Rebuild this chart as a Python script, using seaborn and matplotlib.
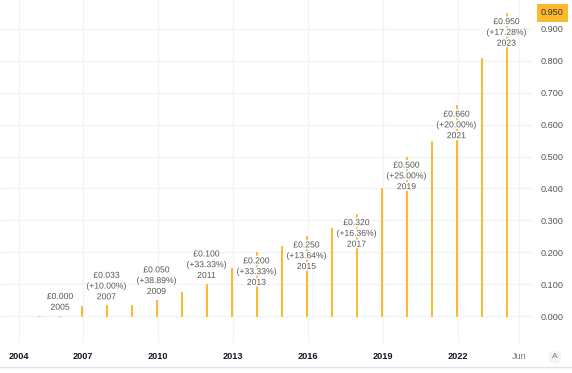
import numpy as np
import pandas as pd
import matplotlib
matplotlib.use("Agg")
import matplotlib.pyplot as plt
import matplotlib.patheffects as pe
import matplotlib.transforms as mtransforms
from matplotlib.lines import Line2D
import seaborn as sns

# annual dividend per share (GBP), plotted at year end
years = [2004, 2005, 2006, 2007, 2008, 2009, 2010, 2011, 2012, 2013,
         2014, 2015, 2016, 2017, 2018, 2019, 2020, 2021, 2022, 2023]
dividends = [0.0003, 0.0004, 0.030, 0.033, 0.036, 0.050, 0.075, 0.100, 0.150, 0.200,
             0.220, 0.250, 0.275, 0.320, 0.400, 0.500, 0.550, 0.660, 0.810, 0.950]
labelled_years = [2005, 2007, 2009, 2011, 2013, 2015, 2017, 2019, 2021, 2023]

x_ticks = [2004, 2007, 2010, 2013, 2016, 2019, 2022, 2024.45]
x_tick_labels = ["2004", "2007", "2010", "2013", "2016", "2019", "2022", "Jun"]
y_ticks = [0.0, 0.1, 0.2, 0.3, 0.4, 0.5, 0.6, 0.7, 0.8, 0.9]
last_value = 0.950

BAR = "#FDB92C"
GRID = "#F2F3F5"
TEXT = "#555555"

df = pd.DataFrame({"year": years, "dividend": dividends})
df["date"] = df["year"] + 0.94

sns.set_style("white")
plt.rcParams["font.family"] = ["Liberation Sans", "DejaVu Sans"]

fig = plt.figure(figsize=(5.72, 3.73), dpi=100)
ax = fig.add_axes([0, 30 / 373, 533 / 572, 343 / 373])

# the time axis is squeezed before 2007 (sparse early data)
K = 0.849
BREAK = 2006.92


def fwd(t):
    t = np.asarray(t, dtype=float)
    return np.where(t < BREAK, BREAK - K * (BREAK - t), t)


def inv(u):
    u = np.asarray(u, dtype=float)
    return np.where(u < BREAK, BREAK - (BREAK - u) / K, u)


ax.set_xscale("function", functions=(fwd, inv))

sns.barplot(data=df, x="date", y="dividend", native_scale=True, width=0.08,
            color=BAR, saturation=1, edgecolor=BAR, linewidth=0.7, ax=ax)

# labels with yearly totals and growth
for yr in labelled_years:
    i = years.index(yr)
    v = dividends[i]
    lines = [f"£{v:.3f}"]
    if i > 0 and dividends[i - 1] >= 0.01:
        lines.append(f"(+{(v / dividends[i - 1] - 1) * 100:.2f}%)")
    lines.append(str(yr))
    if v >= 0.15:
        off, va = -3.0, "top"
    else:
        off, va = 3.0, "bottom"
    ax.annotate("\n".join(lines), xy=(yr + 0.94, v), xytext=(0, off),
                textcoords="offset points", ha="center", va=va,
                fontsize=6.2, color=TEXT, linespacing=1.25,
                path_effects=[pe.withStroke(linewidth=2.5, foreground="white")])

ax.set_xlim(2003.104, 2025.0)
ax.set_ylim(-0.0846, 0.9906)

ax.set_xticks(x_ticks)
ax.set_xticklabels(x_tick_labels)
ax.set_yticks(y_ticks)
ax.set_yticklabels([f"{t:.3f}" for t in y_ticks])
ax.yaxis.tick_right()
ax.tick_params(axis="y", length=0, pad=5.8, labelsize=6.6, labelcolor=TEXT)
ax.tick_params(axis="x", length=0, pad=6.5, labelsize=6.6, labelcolor="#131722")
for lab in ax.get_xticklabels():
    if lab.get_text() == "Jun":
        lab.set_color("#787B86")
    else:
        lab.set_fontweight("bold")

ax.grid(True, color=GRID, linewidth=1)
ax.set_axisbelow(True)
for s in ax.spines.values():
    s.set_visible(False)
ax.set_xlabel("")
ax.set_ylabel("")

# current value marker on the price scale
trans = mtransforms.blended_transform_factory(ax.transAxes, ax.transData)
ax.text(1 + 8 / 533, last_value, f"{last_value:.3f}", transform=trans,
        ha="left", va="center", fontsize=6.6, color="#333333", clip_on=False,
        bbox=dict(boxstyle="square,pad=0.45", fc=BAR, ec="none"))

fig.add_artist(Line2D([0, 1], [6 / 373, 6 / 373], transform=fig.transFigure,
                      color="#E0E3EB", linewidth=1))
fig.text(555 / 572, 1 - 357 / 373, "A", ha="center", va="center", fontsize=6,
         color="#787B86", bbox=dict(boxstyle="circle,pad=0.35", fc=GRID, ec="none"))

fig.savefig("out.png", dpi=100, facecolor="white")
